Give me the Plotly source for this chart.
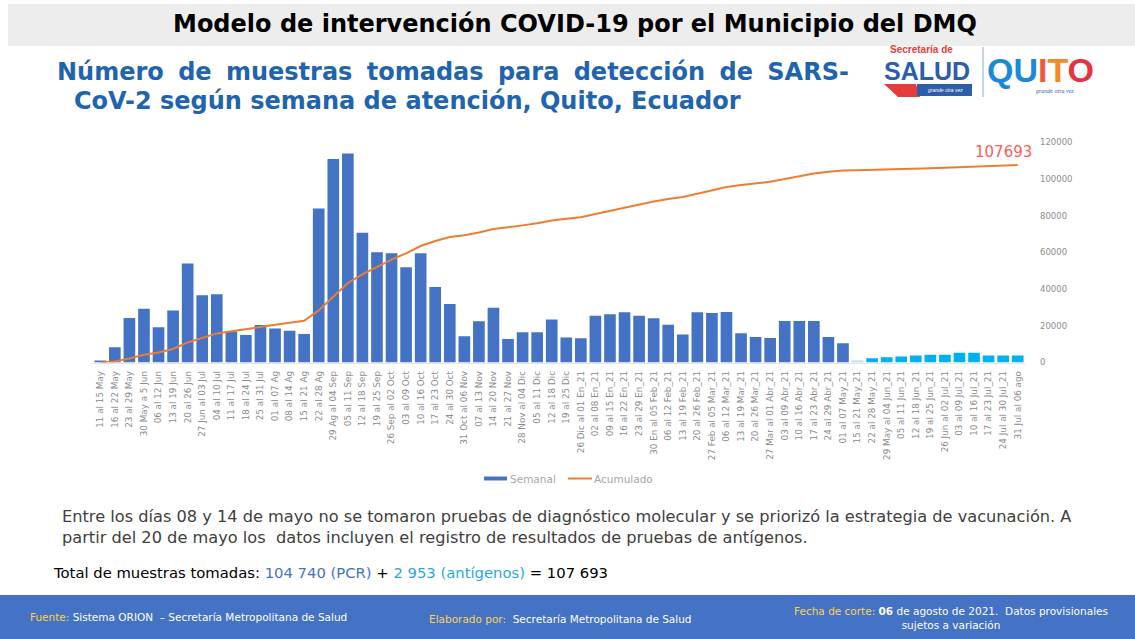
import plotly.graph_objects as go
from itertools import accumulate

W, H = 1135, 639

semanas = [
    "11 al 15 May", "16 al 22 May", "23 al 29 May", "30 May a 5 Jun", "06 al 12 Jun",
    "13 al 19 Jun", "20 al 26 Jun", "27 Jun al 03 Jul", "04 al 10 Jul", "11 al 17 Jul",
    "18 al 24 Jul", "25 al 31 Jul", "01 al 07 Ag", "08 al 14 Ag", "15 al 21 Ag",
    "22 al 28 Ag", "29 Ag al 04 Sep", "05 al 11 Sep", "12 al 18 Sep", "19 al 25 Sep",
    "26 Sep al 02 Oct", "03 al 09 Oct", "10 al 16 Oct", "17 al 23 Oct", "24 al 30 Oct",
    "31 Oct al 06 Nov", "07 al 13 Nov", "14 al 20 Nov", "21 al 27 Nov", "28 Nov al 04 Dic",
    "05 al 11 Dic", "12 al 18 Dic", "19 al 25 Dic", "26 Dic al 01 En_21", "02 al 08 En_21",
    "09 al 15 En_21", "16 al 22 En_21", "23 al 29 En_21", "30 En al 05 Feb_21", "06 al 12 Feb_21",
    "13 al 19 Feb_21", "20 al 26 Feb_21", "27 Feb al 05 Mar_21", "06 al 12 Mar_21", "13 al 19 Mar_21",
    "20 al 26 Mar_21", "27 Mar al 01 Abr_21", "03 al 09 Abr_21", "10 al 16 Abr_21", "17 al 23 Abr_21",
    "24 al 29 Abr_21", "01 al 07 May_21", "15 al 21 May_21", "22 al 28 May_21", "29 May al 04 Jun_21",
    "05 al 11 Jun_21", "12 al 18 Jun_21", "19 al 25 Jun_21", "26 Jun al 02 Jul_21", "03 al 09 Jul_21",
    "10 al 16 Jul_21", "17 al 23 Jul_21", "24 Jul al 30 Jul_21", "31 Jul al 06 ago",
]

# Weekly samples (PCR weeks, then weeks that include antigen tests)
semanal_pcr = [
    60, 550, 1620, 1950, 1280, 1890, 3600, 2450, 2480, 1130,
    1000, 1360, 1240, 1150, 1040, 5600, 7400, 7600, 4720, 4010,
    3970, 3460, 3970, 2750, 2130, 950, 1500, 1990, 850, 1100,
    1100, 1560, 910, 880, 1700, 1750, 1830, 1700, 1610, 1370,
    1020, 1830, 1800, 1840, 1060, 930, 890, 1510, 1510, 1510,
    930, 700,
]
semanal_ant = [77, 154, 193, 219, 258, 281, 281, 358, 358, 258, 258, 258]

semanal = semanal_pcr + semanal_ant
acumulado = list(accumulate(semanal))

bar_colors = (["#4472C4"] * len(semanal_pcr)
              + ["#BDD7EE"] + ["#00B0F0"] * (len(semanal_ant) - 1))

y2_ticks = [0, 20000, 40000, 60000, 80000, 100000, 120000]


def px(x):
    return x / W


def py(y):
    return 1 - y / H


CHART_FONT = "DejaVu Sans"
SANS = "DejaVu Sans"
ARIAL = "Liberation Sans, Arial"

fig = go.Figure()
fig.add_trace(go.Bar(
    x=semanas, y=semanal, name="Semanal",
    marker=dict(color=bar_colors, line=dict(width=0)),
    yaxis="y", showlegend=False,
))
fig.add_trace(go.Scatter(
    x=semanas, y=acumulado, name="Acumulado", mode="lines",
    line=dict(color="#ED7D31", width=2),
    yaxis="y2", showlegend=False,
))

fig.update_layout(
    width=W, height=H,
    margin=dict(l=0, r=0, t=0, b=0, autoexpand=False),
    paper_bgcolor="white", plot_bgcolor="white",
    bargap=0.2,
    showlegend=False,
    xaxis=dict(domain=[px(93), px(1025)], type="category", tickangle=-90,
               range=[-0.5, len(semanas) - 0.5],
               tickfont=dict(size=8.8, color="#8C8C8C", family=CHART_FONT),
               showgrid=False, zeroline=False, showline=True, linecolor="#E3E3E3",
               ticks="", ticklabelstandoff=4, automargin=False),
    yaxis=dict(domain=[py(362.5), py(142.5)], range=[0, 8000], visible=False,
               showgrid=False, zeroline=False, automargin=False),
    yaxis2=dict(domain=[py(362.5), py(142.5)], range=[0, 120000], overlaying="y",
                side="right", anchor="x", tickvals=y2_ticks,
                tickformat="d",
                tickfont=dict(size=8.5, color="#8C8C8C", family=CHART_FONT),
                showgrid=False, zeroline=False, showline=False, ticks="",
                ticklabelstandoff=14, automargin=False),
)

shapes = []
# title band
shapes.append(dict(type="rect", xref="paper", yref="paper", x0=px(8), x1=px(1135),
                   y0=py(46), y1=py(4), fillcolor="#EDEDED", line=dict(width=0), layer="below"))
# footer band
shapes.append(dict(type="rect", xref="paper", yref="paper", x0=0, x1=1,
                   y0=0, y1=py(595), fillcolor="#4472C4", line=dict(width=0), layer="below"))
# custom legend
shapes.append(dict(type="rect", xref="paper", yref="paper", x0=px(484), x1=px(507),
                   y0=py(480.5), y1=py(476.5), fillcolor="#4472C4", line=dict(width=0)))
shapes.append(dict(type="line", xref="paper", yref="paper", x0=px(568), x1=px(592),
                   y0=py(478.5), y1=py(478.5), line=dict(color="#ED7D31", width=2)))
# logo pieces
shapes.append(dict(type="path", xref="paper", yref="paper",
                   path=f"M {px(884)},{py(84)} L {px(916)},{py(84)} L {px(920)},{py(97)} L {px(898)},{py(97)} Z",
                   fillcolor="#E63B3B", line=dict(width=0)))
shapes.append(dict(type="rect", xref="paper", yref="paper", x0=px(917), x1=px(972),
                   y0=py(96), y1=py(84), fillcolor="#2E5EA8", line=dict(width=0)))
shapes.append(dict(type="line", xref="paper", yref="paper", x0=px(983), x1=px(983),
                   y0=py(97), y1=py(47), line=dict(color="#8FA9C9", width=1)))
fig.update_layout(shapes=shapes)

ann = []
ann.append(dict(xref="paper", yref="paper", x=px(575), y=py(24), xanchor="center", yanchor="middle",
                text="<b>Modelo de intervención COVID-19 por el Municipio del DMQ</b>",
                showarrow=False, font=dict(size=24, color="#000000", family=SANS)))
sp = "\u2005 "
ann.append(dict(xref="paper", yref="paper", x=px(55), y=py(72), xanchor="left", yanchor="middle",
                text="<b>" + sp.join("Número de muestras tomadas para detección de SARS-".split(" ")) + "</b>",
                showarrow=False, font=dict(size=24, color="#1F64AE", family=SANS)))
ann.append(dict(xref="paper", yref="paper", x=px(72), y=py(101), xanchor="left", yanchor="middle",
                text="<b>CoV-2 según semana de atención, Quito, Ecuador</b>",
                showarrow=False, font=dict(size=24, color="#1F64AE", family=SANS)))
# logo text
ann.append(dict(xref="paper", yref="paper", x=px(921), y=py(49), xanchor="center", yanchor="middle",
                text="<b>Secretaría de</b>", showarrow=False,
                font=dict(size=10, color="#E63B3B", family=ARIAL)))
ann.append(dict(xref="paper", yref="paper", x=px(927), y=py(71), xanchor="center", yanchor="middle",
                text="<b>SALUD</b>", showarrow=False,
                font=dict(size=25, color="#2E5EA8", family=ARIAL)))
ann.append(dict(xref="paper", yref="paper", x=px(945), y=py(90), xanchor="center", yanchor="middle",
                text="<i>grande otra vez</i>", showarrow=False,
                font=dict(size=5, color="#FFFFFF", family=ARIAL)))
ann.append(dict(xref="paper", yref="paper", x=px(1040), y=py(70), xanchor="center", yanchor="middle",
                text=("<b><span style='color:#1E88D8'>QU</span><span style='color:#F05A3C'>I</span>"
                      "<span style='color:#F28C28'>T</span><span style='color:#E3343F'>O</span></b>"),
                showarrow=False, font=dict(size=34, family=ARIAL)))
ann.append(dict(xref="paper", yref="paper", x=px(1055), y=py(91), xanchor="center", yanchor="middle",
                text="<i>grande otra vez</i>", showarrow=False,
                font=dict(size=6, color="#3B5FA0", family="Liberation Serif")))
# legend text
ann.append(dict(xref="paper", yref="paper", x=px(508), y=py(478.5), xanchor="left", yanchor="middle",
                text="Semanal", showarrow=False,
                font=dict(size=10.5, color="#A6A6A6", family=CHART_FONT)))
ann.append(dict(xref="paper", yref="paper", x=px(592), y=py(478.5), xanchor="left", yanchor="middle",
                text="Acumulado", showarrow=False,
                font=dict(size=10.5, color="#A6A6A6", family=CHART_FONT)))
# final value label
ann.append(dict(xref="x", yref="y2", x=semanas[-1], y=acumulado[-1], xanchor="center", yanchor="bottom",
                xshift=-14, yshift=2, text=f"{acumulado[-1]}", showarrow=False,
                font=dict(size=15, color="#FF5B5B", family=CHART_FONT)))
# note
ann.append(dict(xref="paper", yref="paper", x=px(60), y=py(527), xanchor="left", yanchor="middle",
                align="left",
                text=("Entre los días 08 y 14 de mayo no se tomaron pruebas de diagnóstico molecular y se priorizó la estrategia de vacunación. A"
                      "<br>partir del 20 de mayo los  datos incluyen el registro de resultados de pruebas de antígenos."),
                showarrow=False, font=dict(size=16.2, color="#404040", family=CHART_FONT)))
ann.append(dict(xref="paper", yref="paper", x=px(51), y=py(572), xanchor="left", yanchor="middle",
                text=("Total de muestras tomadas: <span style='color:#4472C4'>104 740 (PCR)</span> + "
                      "<span style='color:#29A8E0'>2 953 (antígenos)</span> = 107 693"),
                showarrow=False, font=dict(size=14.8, color="#000000", family=SANS)))
# footer
ann.append(dict(xref="paper", yref="paper", x=px(28), y=py(617), xanchor="left", yanchor="middle",
                text="<span style='color:#FFD34D'>Fuente:</span> Sistema ORION  – Secretaría Metropolitana de Salud",
                showarrow=False, font=dict(size=10.5, color="#FFFFFF", family=SANS)))
ann.append(dict(xref="paper", yref="paper", x=px(427), y=py(619), xanchor="left", yanchor="middle",
                text="<span style='color:#FFD34D'>Elaborado por:</span>  Secretaría Metropolitana de Salud",
                showarrow=False, font=dict(size=10.5, color="#FFFFFF", family=SANS)))
ann.append(dict(xref="paper", yref="paper", x=px(951), y=py(618), xanchor="center", yanchor="middle",
                align="center",
                text=("<span style='color:#FFD34D'>Fecha de corte:</span> <b>06</b> de agosto de 2021.  Datos provisionales"
                      "<br>sujetos a variación"),
                showarrow=False, font=dict(size=10.5, color="#FFFFFF", family=SANS)))
fig.update_layout(annotations=ann)

fig.write_html("out.html", config={"displayModeBar": False},
               post_script="document.body.style.margin='0';")
